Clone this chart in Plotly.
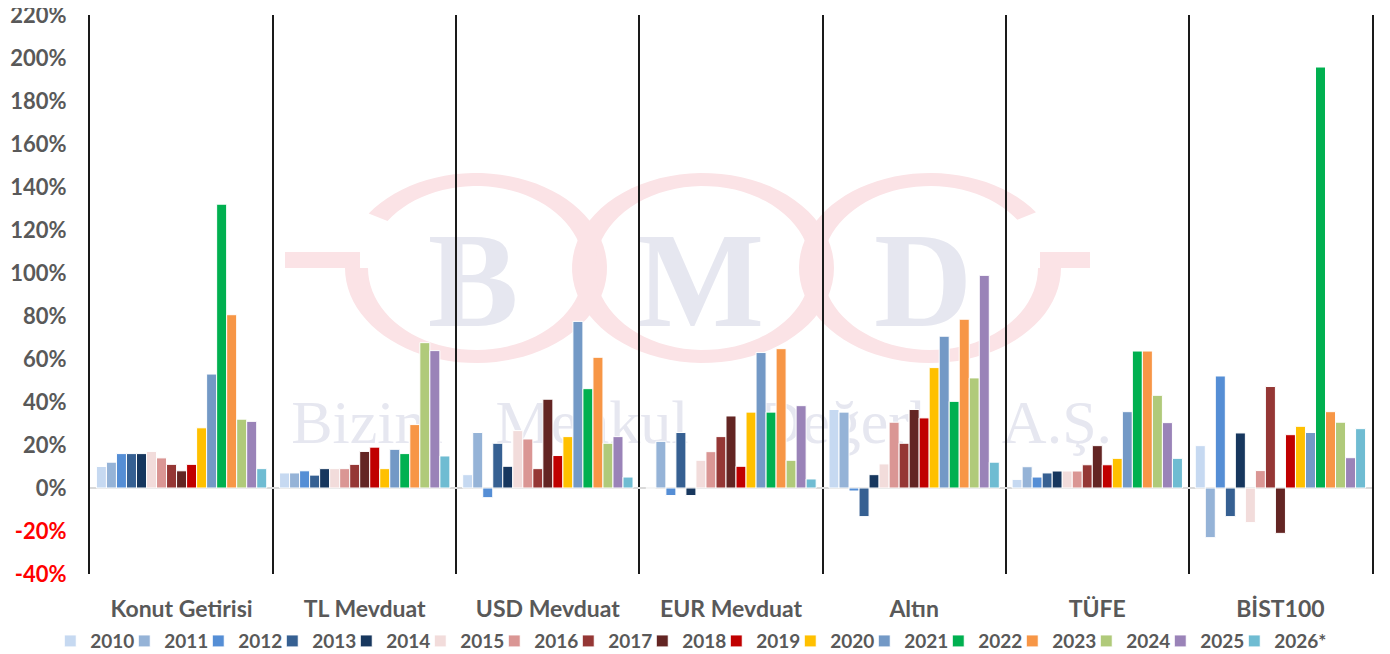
import numpy as np
import plotly.graph_objects as go

categories = ["Konut Getirisi", "TL Mevduat", "USD Mevduat", "EUR Mevduat", "Altın", "TÜFE", "BİST100"]
years = ["2010", "2011", "2012", "2013", "2014", "2015", "2016", "2017", "2018",
         "2019", "2020", "2021", "2022", "2023", "2024", "2025", "2026*"]

# yearly return (%) per asset, one value per year above
konut = [10, 12, 16, 16, 16, 17, 14, 11, 8, 11, 28, 53, 132, 80.6, 32, 31, 9]
tl_mevduat = [7, 7, 8, 6, 9, 9, 9, 11, 17, 19, 9, 18, 16, 29.5, 67.6, 63.9, 14.9]
usd_mevduat = [6.2, 25.8, -4.5, 20.8, 10.1, 26.7, 22.8, 9.0, 41.3, 15.1, 23.9, 77.5, 46.2, 60.8, 20.8, 23.9, 5.1]
eur_mevduat = [0, 21.7, -3.5, 25.8, -3.5, 12.9, 16.9, 23.9, 33.5, 10.1, 35.3, 63.0, 35.3, 64.8, 12.9, 38.3, 4.2]
altin = [36.5, 35.3, -1.4, -13.3, 6.2, 11.2, 30.6, 20.8, 36.5, 32.6, 56.0, 70.6, 40.3, 78.5, 51.2, 98.9, 12.0]
tufe = [4.0, 9.9, 5.1, 7.0, 7.9, 7.9, 7.9, 10.8, 19.7, 10.8, 13.8, 35.5, 63.7, 63.7, 43.1, 30.4, 13.8]
bist100 = [19.7, -23.1, 52.1, -13.3, 25.6, -16.1, 8.1, 47.2, -21.1, 24.8, 28.7, 25.8, 195.8, 35.5, 30.6, 14.1, 27.6]

colors = ["#C6D9F1", "#95B3D7", "#558ED5", "#366092", "#17375E", "#F2DCDB", "#DA9694",
          "#953735", "#632523", "#C00000", "#FFC000", "#7399C6", "#00B050", "#F79646",
          "#B0CA7A", "#9A83B8", "#6FBCD2"]

tick_vals = list(range(-40, 221, 20))
tick_text = [f'<span style="color:#FF0000">{v}%</span>' if v < 0 else f"{v}%" for v in tick_vals]

series = [konut, tl_mevduat, usd_mevduat, eur_mevduat, altin, tufe, bist100]
grey = "#595959"
font_main = "Lato"

fig = go.Figure()
for i, yr in enumerate(years):
    fig.add_trace(go.Bar(
        x=categories,
        y=[s[i] for s in series],
        name=yr,
        marker=dict(color=colors[i], line=dict(color="white", width=1)),
    ))
# empty legend slot so the last label ("2026*") isn't clipped by the legend box
fig.add_trace(go.Scatter(x=[None], y=[None], mode="markers", name=" ",
                         marker=dict(color="rgba(0,0,0,0)"), hoverinfo="skip"))

# page body has an 8px margin, so the figure is drawn 8px right/down
OFF = 8
W, H = 1382, 646
L, R, T, B = 90 - OFF, 1372 - OFF, 15 - OFF, 574 - OFF

# --- watermark (BMD logo), screenshot pixel positions -> paper coords
def px(x):
    return (x - OFF - L) / (R - L)
def py(y):
    return (B - (y - OFF)) / (B - T)

def band(cx, cy, rxo, ryo, rxi, ryi, a0, a1, n=80):
    a = np.radians(np.linspace(a0, a1, n))
    outer = [(px(cx + rxo * np.cos(t)), py(cy - ryo * np.sin(t))) for t in a]
    inner = [(px(cx + rxi * np.cos(t)), py(cy - ryi * np.sin(t))) for t in a[::-1]]
    pts = outer + inner
    return "M " + " L ".join(f"{x:.5f},{y:.5f}" for x, y in pts) + " Z"

pink = "#FBE3E6"
shapes = []
rings = [(476, 268, 145, -180), (703, 268, 0, 360), (930, 268, 360, 36)]
for cx, cy, a0, a1 in rings:
    shapes.append(dict(type="path", xref="paper", yref="paper", layer="below",
                       path=band(cx, cy, 131, 95, 108, 82, a0, a1),
                       fillcolor=pink, line=dict(width=0)))
# tails
for x0, x1 in [(285, 360), (1040, 1090)]:
    shapes.append(dict(type="rect", xref="paper", yref="paper", layer="below",
                       x0=px(x0), x1=px(x1), y0=py(268), y1=py(252),
                       fillcolor=pink, line=dict(width=0)))

wm = "#E6E7F0"
for txt, cx, cy, size, weight in [("B", 473, 265, 136, "bold"), ("M", 700, 265, 136, "bold"),
                                  ("D", 923, 265, 136, "bold"),
                                  ("Bizim", 367, 415, 62, "normal"), ("Menkul", 592, 415, 62, "normal"),
                                  ("Değerler", 866, 415, 62, "normal"), ("A.Ş.", 1057, 415, 62, "normal")]:
    shapes.append(dict(type="rect", xref="paper", yref="paper", layer="below",
                       x0=px(cx - 60), x1=px(cx + 60), y0=py(cy + 40), y1=py(cy - 40),
                       line=dict(width=0), fillcolor="rgba(0,0,0,0)",
                       label=dict(text=txt, textposition="middle center",
                                  font=dict(family="Liberation Serif", size=size, color=wm, weight=weight))))

fig.update_layout(
    width=W, height=H,
    margin=dict(l=L, r=W - R, t=T, b=H - B, autoexpand=False),
    paper_bgcolor="white", plot_bgcolor="white",
    barmode="group", bargap=0.07, bargroupgap=0,
    shapes=shapes,
    showlegend=True,
    legend=dict(orientation="h", x=-0.031, xanchor="left", y=-0.12, yanchor="middle",
                font=dict(family=font_main, size=19, color=grey, weight="bold"),
                traceorder="normal", entrywidth=29, itemwidth=30),
    xaxis=dict(tickson="boundaries", showgrid=True, gridcolor="#1A1A1A", gridwidth=2,
               ticks="", showline=False, ticklabelstandoff=19,
               tickfont=dict(family=font_main, size=23, color=grey, weight="bold")),
    yaxis=dict(range=[-40, 220], tickmode="array", tickvals=tick_vals, ticktext=tick_text,
               showgrid=False, showline=True, linecolor="#1A1A1A", linewidth=2, mirror=True,
               zeroline=True, zerolinecolor="#D9D9D9", zerolinewidth=2, ticks="",
               ticklabelstandoff=17, ticklabeloverflow="allow",
               tickfont=dict(family=font_main, size=22, color=grey, weight="bold")),
)

fig.write_html("out.html")
